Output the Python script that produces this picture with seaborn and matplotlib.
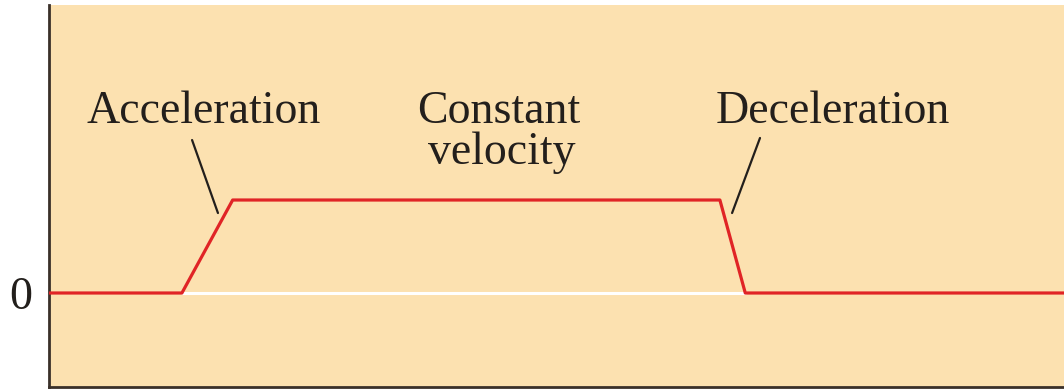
import matplotlib
matplotlib.use("Agg")
import matplotlib.pyplot as plt
import pandas as pd
import seaborn as sns

# Velocity profile: rest, acceleration, constant velocity, deceleration, rest
time = [0.0, 1.31, 1.81, 6.61, 6.86, 10.0]
velocity = [0.0, 0.0, 1.0, 1.0, 0.0, 0.0]

# Annotation lines (text, x centre, baseline height)
label_lines = ["Acceleration", "Constant", "velocity", "Deceleration"]
label_x = [1.527, 4.433, 4.46, 7.72]
label_y = [1.828, 1.828, 1.387, 1.828]

# Leader lines from label to the curve
leader_x = [(1.41, 1.665), (7.005, 6.73)]
leader_y = [(1.645, 0.86), (1.667, 0.86)]

sns.set_style("white")
plt.rcParams["font.family"] = ["Liberation Serif", "DejaVu Serif"]

df = pd.DataFrame({"time": time, "velocity": velocity})

fig = plt.figure(figsize=(10.64, 3.91), dpi=100)
ax = fig.add_axes([0.046, 0.0102, 0.954, 0.977])
ax.set_facecolor("#fce1b0")

# White zero baseline under the moving section
ax.plot([time[1], time[4]], [0, 0], color="white", lw=2.2, zorder=2)

sns.lineplot(data=df, x="time", y="velocity", color="#e02426", lw=2.3,
             ax=ax, zorder=3, estimator=None, sort=False)

for text, x, y in zip(label_lines, label_x, label_y):
    ax.text(x, y, text, ha="center", va="baseline", fontsize=33,
            color="#231f1c")
for xs, ys in zip(leader_x, leader_y):
    ax.plot(xs, ys, color="#231f1c", lw=1.6)

ax.set_xlim(0, 10)
ax.set_ylim(-1.011, 3.097)
ax.set_xticks([])
ax.set_yticks([0])
ax.set_yticklabels(["0"], fontsize=33, color="#231f1c")
ax.tick_params(axis="y", length=0, pad=12)
ax.set_xlabel("")
ax.set_ylabel("")

for side in ("top", "right"):
    ax.spines[side].set_visible(False)
for side in ("left", "bottom"):
    ax.spines[side].set_color("#3a3029")
    ax.spines[side].set_linewidth(2.0)

fig.savefig("out.png", dpi=100, facecolor="white")
